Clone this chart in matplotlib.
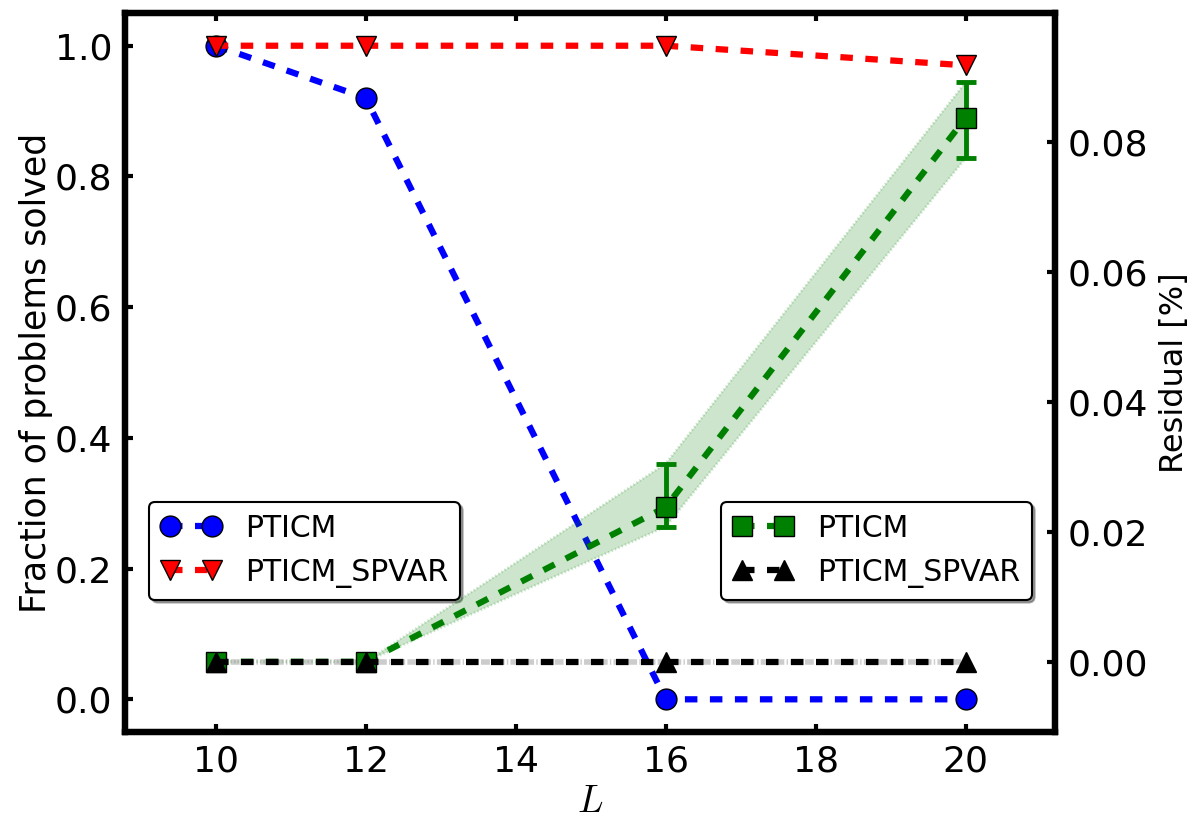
import matplotlib
matplotlib.use('Agg')
import matplotlib.pyplot as plt

# data
L = [10, 12, 16, 20]
frac_pticm = [1.0, 0.92, 0.0, 0.0]
frac_spvar = [1.0, 1.0, 1.0, 0.97]
res_pticm = [0.0, 0.0, 0.0238, 0.0837]
res_pticm_lo = [0.0, 0.0, 0.0208, 0.0775]
res_pticm_hi = [0.0, 0.0, 0.0305, 0.0892]
res_spvar = [0.0, 0.0, 0.0, 0.0]

plt.rcParams['lines.scale_dashes'] = False
plt.rcParams['font.family'] = 'DejaVu Sans'
plt.rcParams['mathtext.fontset'] = 'cm'

fig = plt.figure(figsize=(12.03, 8.36), dpi=100)
ax = fig.add_axes([0.1039, 0.1244, 0.7731, 0.8600])
ax2 = ax.twinx()

dash = (9, 9)
lw = 4.5
ms = 15

# residuals (right axis)
ax2.fill_between(L, res_pticm_lo, res_pticm_hi, color='g', alpha=0.2, lw=2, linestyle=':')
ax2.plot(L, res_spvar, color='gray', alpha=0.4, lw=4, linestyle='-.')
yerr = [[c - lo for c, lo in zip(res_pticm, res_pticm_lo)],
        [hi - c for c, hi in zip(res_pticm, res_pticm_hi)]]
ax2.errorbar(L, res_pticm, yerr=yerr, fmt='none', ecolor='g', elinewidth=3.5,
             capsize=7.5, capthick=3.5)
ax2.plot(L, res_pticm, color='g', marker='s', ms=ms, mec='k', mew=1,
         lw=lw, dashes=dash, label='PTICM')
ax2.plot(L, res_spvar, color='k', marker='^', ms=ms, mec='k', mew=1,
         lw=lw, dashes=dash, label='PTICM_SPVAR')

# fraction solved (left axis)
ax.plot(L, frac_pticm, color='b', marker='o', ms=ms, mec='k', mew=1,
        lw=lw, dashes=dash, label='PTICM')
ax.plot(L, frac_spvar, color='r', marker='v', ms=ms, mec='k', mew=1,
        lw=lw, dashes=dash, label='PTICM_SPVAR')

ax.set_xlim(8.79, 21.19)
ax.set_ylim(-0.05, 1.05)
ax2.set_ylim(-0.0108, 0.0998)
ax.set_xticks([10, 12, 14, 16, 18, 20])
ax.set_yticks([0.0, 0.2, 0.4, 0.6, 0.8, 1.0])
ax2.set_yticks([0.0, 0.02, 0.04, 0.06, 0.08])
ax2.set_yticklabels(['0.00', '0.02', '0.04', '0.06', '0.08'])

ax.set_xlabel('$L$', fontsize=27, labelpad=4)
ax.set_ylabel('Fraction of problems solved', fontsize=25, labelpad=1)
ax2.set_ylabel('Residual [%]', fontsize=23, labelpad=8)

for a in (ax, ax2):
    for s in a.spines.values():
        s.set_linewidth(4.5)
ax.tick_params(axis='both', direction='in', length=6, width=3, labelsize=26, pad=9,
               top=True)
ax2.tick_params(axis='y', direction='in', length=6, width=3, labelsize=26, pad=9)

leg_kw = dict(numpoints=2, fontsize=21.5, shadow=True, fancybox=True, framealpha=1,
              edgecolor='k', borderaxespad=0)
l1 = ax.legend(loc='lower left', bbox_to_anchor=(0.026, 0.184), **leg_kw)
l2 = ax2.legend(loc='lower right', bbox_to_anchor=(0.975, 0.184), **leg_kw)
for lg in (l1, l2):
    lg.get_frame().set_linewidth(1.5)

fig.savefig('out.png', dpi=100)
